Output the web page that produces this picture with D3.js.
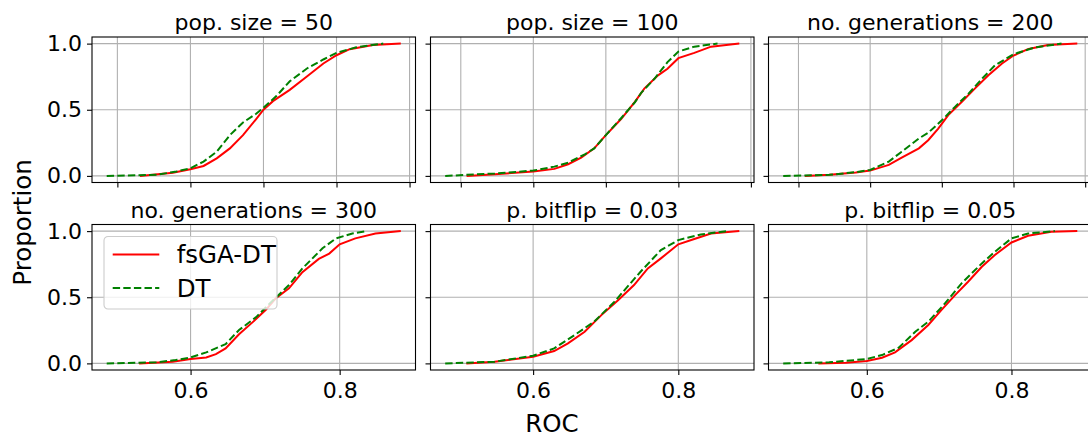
<!DOCTYPE html>
<html>
<head>
<meta charset="utf-8">
<script src="https://cdn.jsdelivr.net/npm/d3@7"></script>
<style>
body { margin: 0; background: #fff; }
text { font-family: "DejaVu Sans", sans-serif; fill: #000; }
</style>
</head>
<body>
<svg id="chart" width="1088" height="437"></svg>
<script>
// panel titles, row by row
var titles = ["pop. size = 50", "pop. size = 100", "no. generations = 200",
              "no. generations = 300", "p. bitflip = 0.03", "p. bitflip = 0.05"];
var seriesNames = ["fsGA-DT", "DT"];

// ECDF curves: [ROC, proportion]
var fsgaCurves = [
  [[0.531,0],[0.576,0.023],[0.6,0.05],[0.618,0.075],[0.636,0.133],[0.654,0.208],[0.672,0.308],[0.69,0.43],[0.7,0.5],[0.713,0.565],[0.736,0.65],[0.759,0.75],[0.782,0.85],[0.8,0.912],[0.818,0.958],[0.85,0.99],[0.888,1]],
  [[0.508,0],[0.547,0.0125],[0.6,0.033],[0.629,0.053],[0.648,0.088],[0.666,0.138],[0.684,0.208],[0.7,0.308],[0.721,0.43],[0.74,0.56],[0.753,0.66],[0.772,0.76],[0.785,0.81],[0.8,0.89],[0.822,0.93],[0.845,0.977],[0.884,1]],
  [[0.509,0],[0.543,0.008],[0.58,0.025],[0.6,0.04],[0.626,0.083],[0.644,0.138],[0.668,0.208],[0.681,0.27],[0.695,0.358],[0.709,0.46],[0.728,0.56],[0.746,0.66],[0.765,0.76],[0.784,0.85],[0.8,0.91],[0.821,0.96],[0.848,0.99],[0.889,1]],
  [[0.531,0],[0.576,0.013],[0.6,0.033],[0.621,0.045],[0.634,0.07],[0.647,0.113],[0.665,0.22],[0.683,0.31],[0.701,0.405],[0.714,0.49],[0.732,0.567],[0.75,0.69],[0.772,0.79],[0.786,0.83],[0.8,0.9],[0.821,0.945],[0.848,0.982],[0.882,1]],
  [[0.508,0],[0.547,0.013],[0.6,0.05],[0.629,0.093],[0.648,0.151],[0.671,0.239],[0.694,0.365],[0.717,0.478],[0.739,0.592],[0.758,0.718],[0.776,0.794],[0.8,0.9],[0.822,0.94],[0.845,0.982],[0.884,1]],
  [[0.533,0],[0.571,0.005],[0.6,0.018],[0.621,0.043],[0.639,0.083],[0.662,0.176],[0.685,0.29],[0.703,0.403],[0.722,0.516],[0.74,0.617],[0.759,0.73],[0.777,0.819],[0.8,0.914],[0.823,0.965],[0.855,0.995],[0.891,1]]
];
var dtCurves = [
  [[0.4854,0],[0.554,0.008],[0.581,0.033],[0.6,0.058],[0.618,0.108],[0.636,0.183],[0.654,0.308],[0.672,0.404],[0.69,0.47],[0.7,0.515],[0.718,0.605],[0.736,0.715],[0.759,0.81],[0.782,0.88],[0.8,0.93],[0.827,0.972],[0.864,1]],
  [[0.4785,0],[0.547,0.018],[0.6,0.04],[0.629,0.07],[0.648,0.1],[0.671,0.163],[0.684,0.208],[0.7,0.308],[0.721,0.436],[0.74,0.556],[0.749,0.63],[0.767,0.734],[0.785,0.86],[0.8,0.94],[0.822,0.977],[0.854,1]],
  [[0.4787,0],[0.543,0.008],[0.58,0.028],[0.6,0.045],[0.626,0.108],[0.644,0.183],[0.668,0.283],[0.681,0.326],[0.7,0.42],[0.718,0.52],[0.737,0.62],[0.756,0.734],[0.774,0.835],[0.8,0.92],[0.83,0.972],[0.867,1]],
  [[0.4875,0],[0.554,0.008],[0.58,0.025],[0.6,0.045],[0.621,0.083],[0.647,0.146],[0.665,0.252],[0.688,0.35],[0.705,0.446],[0.732,0.592],[0.75,0.718],[0.777,0.87],[0.795,0.945],[0.817,0.982],[0.837,1]],
  [[0.4789,0],[0.547,0.013],[0.6,0.058],[0.629,0.113],[0.657,0.214],[0.684,0.315],[0.712,0.466],[0.73,0.58],[0.748,0.693],[0.776,0.857],[0.8,0.932],[0.831,0.975],[0.868,1]],
  [[0.4844,0],[0.548,0.008],[0.6,0.033],[0.621,0.063],[0.644,0.118],[0.667,0.239],[0.685,0.315],[0.708,0.453],[0.731,0.605],[0.759,0.756],[0.777,0.844],[0.8,0.945],[0.823,0.982],[0.86,1]]
];

var yTicks = [0, 0.5, 1.0];
var topXTicks = [0.5, 0.6, 0.7, 0.8, 0.9];
var bottomXTicks = [0.6, 0.8];

var svg = d3.select("#chart");

var lefts = [92, 430.5, 768.5];
var tops = [37, 224.5];
var w = 323.5, h = 145.5;
var gridColor = "#b0b0b0";
var tickFont = 22;

for (var i = 0; i < 6; i++) {
  var col = i % 3, row = Math.floor(i / 3);
  var g = svg.append("g").attr("transform", "translate(" + lefts[col] + "," + tops[row] + ")");

  var all = fsgaCurves[i].concat(dtCurves[i]);
  var ext = d3.extent(all, function(d){ return d[0]; });
  var pad = (ext[1] - ext[0]) * 0.05;
  var x = d3.scaleLinear().domain([ext[0] - pad, ext[1] + pad]).range([0, w]);
  var y = d3.scaleLinear().domain([-0.05, 1.05]).range([h, 0]);

  var xt = row == 0 ? topXTicks : bottomXTicks;

  // grid
  g.selectAll(".gx").data(xt).enter().append("line")
    .attr("x1", function(d){ return x(d); }).attr("x2", function(d){ return x(d); })
    .attr("y1", 0).attr("y2", h)
    .attr("stroke", gridColor).attr("stroke-width", 1.1);
  g.selectAll(".gy").data(yTicks).enter().append("line")
    .attr("x1", 0).attr("x2", w)
    .attr("y1", function(d){ return y(d); }).attr("y2", function(d){ return y(d); })
    .attr("stroke", gridColor).attr("stroke-width", 1.1);

  // axes
  var xAxis = d3.axisBottom(x).tickValues(xt).tickSize(5).tickPadding(7)
    .tickFormat(row == 0 ? function(){ return ""; } : d3.format(".1f"));
  var yAxis = d3.axisLeft(y).tickValues(yTicks).tickSize(5).tickPadding(5)
    .tickFormat(col == 0 ? d3.format(".1f") : function(){ return ""; });

  var gx = g.append("g").attr("transform", "translate(0," + h + ")").call(xAxis);
  var gy = g.append("g").call(yAxis);
  [gx, gy].forEach(function(a){
    a.select(".domain").remove();
    a.selectAll("line").attr("stroke", "#000").attr("stroke-width", 1.1);
    a.selectAll("text").attr("font-family", "DejaVu Sans").attr("font-size", tickFont).attr("fill", "#000");
  });

  // curves
  var line = d3.line().x(function(d){ return x(d[0]); }).y(function(d){ return y(d[1]); });
  g.append("path").datum(fsgaCurves[i]).attr("d", line)
    .attr("fill", "none").attr("stroke", "red").attr("stroke-width", 2);
  g.append("path").datum(dtCurves[i]).attr("d", line)
    .attr("fill", "none").attr("stroke", "green").attr("stroke-width", 2)
    .attr("stroke-dasharray", "7.4,3.2");

  // frame
  g.append("rect").attr("width", w).attr("height", h)
    .attr("fill", "none").attr("stroke", "#000").attr("stroke-width", 1.1);

  g.append("text").attr("x", w / 2).attr("y", -7)
    .attr("text-anchor", "middle").attr("font-size", tickFont).text(titles[i]);

  // legend sits in the bottom-left panel
  if (i == 3) {
    var lg = g.append("g").attr("transform", "translate(12,12)");
    lg.append("rect").attr("width", 173).attr("height", 72.5).attr("rx", 4)
      .attr("fill", "#fff").attr("fill-opacity", 0.8)
      .attr("stroke", "#cccccc").attr("stroke-width", 1.1);
    var styles = [{c: "red", dash: null}, {c: "green", dash: "7.4,3.2"}];
    seriesNames.forEach(function(name, k){
      var yy = 18 + k * 33.4;
      lg.append("line").attr("x1", 8.7).attr("x2", 55.3).attr("y1", yy).attr("y2", yy)
        .attr("stroke", styles[k].c).attr("stroke-width", 2)
        .attr("stroke-dasharray", styles[k].dash);
      lg.append("text").attr("x", 72.7).attr("y", yy).attr("dy", "0.36em")
        .attr("font-size", 24.5).text(name);
    });
  }
}

svg.append("text").attr("x", 552).attr("y", 431.5)
  .attr("text-anchor", "middle").attr("font-size", 24.5).text("ROC");
svg.append("text").attr("transform", "translate(31,222.5) rotate(-90)")
  .attr("text-anchor", "middle").attr("font-size", 24.5).text("Proportion");
</script>
</body>
</html>
